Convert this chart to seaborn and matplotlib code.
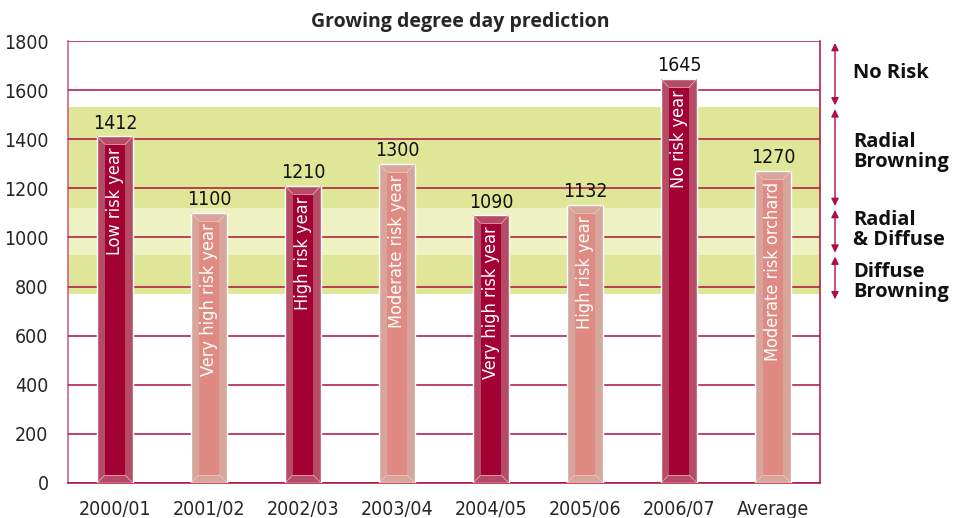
import matplotlib
matplotlib.use("Agg")
import matplotlib.pyplot as plt
import matplotlib.transforms as mtransforms
import seaborn as sns
import pandas as pd

seasons = ["2000/01", "2001/02", "2002/03", "2003/04", "2004/05", "2005/06", "2006/07", "Average"]
gdd = [1412, 1100, 1210, 1300, 1090, 1132, 1645, 1270]
risk_labels = ["Low risk year", "Very high risk year", "High risk year", "Moderate risk year",
               "Very high risk year", "High risk year", "No risk year", "Moderate risk orchard"]
dark = [True, False, True, False, True, False, True, False]

# risk zones (lower, upper, label)
zone_limits = [770, 930, 1120, 1530, 1800]
zone_names = ["Diffuse\nBrowning", "Radial\n& Diffuse", "Radial\nBrowning", "No Risk"]
zone_colors = ["#dfe697", "#eef1c2", "#dfe697", None]

df = pd.DataFrame({"season": seasons, "gdd": gdd})

red = "#b0103e"
dark_main, dark_edge = "#a30033", "#b64b66"
light_main, light_edge = "#df8a82", "#d8a59d"

sns.set_style("white")
plt.rcParams["font.family"] = ["DejaVu Sans"]
plt.rcParams["font.stretch"] = "condensed"

fig = plt.figure(figsize=(9.55, 5.18), dpi=100)
ax = fig.add_axes([0.0712, 0.0676, 0.7874, 0.8532])

for i in range(len(zone_names)):
    if zone_colors[i]:
        ax.axhspan(zone_limits[i], zone_limits[i + 1], color=zone_colors[i], zorder=0, lw=0)

outer = [dark_edge if d else light_edge for d in dark]
sns.barplot(data=df, x="season", y="gdd", hue="season", palette=outer, legend=False,
            width=0.38, ax=ax, zorder=3, saturation=1)

inset = 32
inner_w = 0.22
for i, v in enumerate(gdd):
    main = dark_main if dark[i] else light_main
    ax.bar(i, v - 2 * inset, bottom=inset, width=inner_w, color=main, zorder=4, lw=0)
    hl = "#e7a4b0" if dark[i] else "#f2c2b8"
    # bevel corner lines
    ax.plot([i - 0.19, i - inner_w / 2], [v, v - inset], color=hl, lw=0.6, zorder=5)
    ax.plot([i + 0.19, i + inner_w / 2], [v, v - inset], color=hl, lw=0.6, zorder=5)
    ax.plot([i - 0.19, i - inner_w / 2], [0, inset], color=hl, lw=0.6, zorder=5)
    ax.plot([i + 0.19, i + inner_w / 2], [0, inset], color=hl, lw=0.6, zorder=5)
    ax.plot([i - inner_w / 2, i + inner_w / 2], [inset, inset], color=hl, lw=0.6, zorder=5)
    ax.plot([i - inner_w / 2, i + inner_w / 2], [v - inset, v - inset], color=hl, lw=0.6, zorder=5)
    ax.text(i, v + 15, str(v), ha="center", va="bottom", fontsize=14, color="#111111", zorder=6)
    ax.text(i, v - inset - 12, risk_labels[i], rotation=90, ha="center", va="top",
            fontsize=13, color="white", zorder=6)

ax.set_xlim(-0.5, len(seasons) - 0.5)
ax.set_ylim(0, 1800)
ax.set_yticks(range(0, 1801, 200))
ax.yaxis.grid(True, color=red, lw=1.1, zorder=1)
ax.set_axisbelow(False)
for line in ax.get_ygridlines():
    line.set_zorder(2)
ax.tick_params(axis="y", length=7, color=red, width=1.1, labelsize=14, pad=7)
ax.tick_params(axis="x", which="major", length=0, labelsize=14, pad=12)
ax.set_xticks([i + 0.5 for i in range(-1, len(seasons))], minor=True)
ax.tick_params(axis="x", which="minor", length=8, color=red, width=1.1)
ax.set_xlabel("")
ax.set_ylabel("")
for s in ["left", "right", "bottom"]:
    ax.spines[s].set_color(red)
    ax.spines[s].set_linewidth(1.1)
ax.spines["left"].set_color("#c85a78")
ax.spines["top"].set_visible(False)

fig.text(0.482, 0.957, "Growing degree day prediction", ha="center", va="center",
         fontsize=14, fontweight="bold", family=["Open Sans", "DejaVu Sans"], stretch="normal")

trans = mtransforms.blended_transform_factory(ax.transAxes, ax.transData)
arrow_lo = [740, 930, 1120, 1530]
label_y = [820, 1030, 1350, 1670]
for i, name in enumerate(zone_names):
    ax.annotate("", xy=(1.02, arrow_lo[i] + 8), xytext=(1.02, zone_limits[i + 1] - 8),
                xycoords=trans, textcoords=trans,
                arrowprops=dict(arrowstyle="<|-|>", color=red, lw=1.0, mutation_scale=11,
                                shrinkA=0, shrinkB=0), annotation_clip=False)
    ax.text(1.044, label_y[i], name, transform=trans, ha="left", va="center",
            fontsize=14.5, fontweight="bold", linespacing=1.0, stretch="normal",
            family=["Open Sans", "DejaVu Sans"], color="#111111")

fig.savefig("out.png", dpi=100)
